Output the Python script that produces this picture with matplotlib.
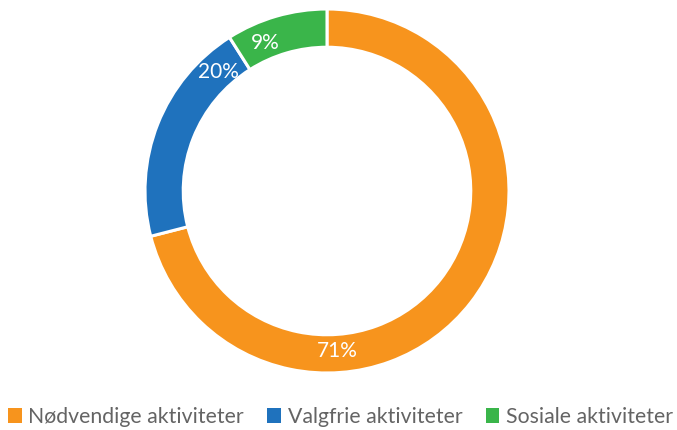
import numpy as np
import matplotlib
matplotlib.use("Agg")
import matplotlib.pyplot as plt
from matplotlib.patches import Patch

plt.rcParams['font.family'] = ['Lato', 'DejaVu Sans']

# data
categories = ['Nødvendige aktiviteter', 'Valgfrie aktiviteter', 'Sosiale aktiviteter']
shares = [71, 20, 9]
colors = ['#F7941D', '#1F72BD', '#3AB54A']
# where each label sits along its wedge (0 = start, 1 = end), like the Excel layout
label_pos = [0.69, 0.86, 0.30]

fig = plt.figure(figsize=(6.77, 4.30), dpi=100)
W, H = 677, 430
cx, cy, R = 327, 191, 182
ax = fig.add_axes([(cx - R) / W, (H - cy - R) / H, 2 * R / W, 2 * R / H])

ring = 0.21
wedges, _ = ax.pie(shares, colors=colors, startangle=90, counterclock=False,
                   radius=1, wedgeprops=dict(width=ring, edgecolor='white', linewidth=2.2))

# percentage labels
start = 0.0
total = sum(shares)
r_lab = 1 - ring / 2 - 0.012
for v, p in zip(shares, label_pos):
    frac = (start + p * v) / total
    ang = np.deg2rad(90 - 360 * frac)
    ax.text(r_lab * np.cos(ang), r_lab * np.sin(ang), f'{v}%', color='white',
            fontsize=15, ha='center', va='center')
    start += v

ax.set_xlim(-1, 1)
ax.set_ylim(-1, 1)
ax.set_aspect('equal')
ax.axis('off')

handles = [Patch(facecolor=c, edgecolor='none') for c in colors]
fig.legend(handles, categories, loc='center', bbox_to_anchor=(0.503, 1 - 417 / H),
           ncol=3, frameon=False, fontsize=15.3, labelcolor='#646464',
           handlelength=0.65, handleheight=0.65, handletextpad=0.3, columnspacing=1.1)

fig.savefig('out.png', dpi=100)
